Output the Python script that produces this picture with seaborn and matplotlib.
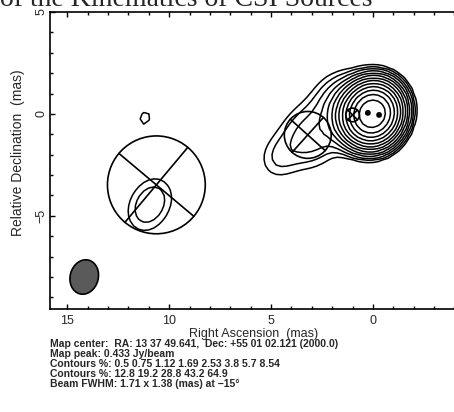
import numpy as np
import matplotlib
matplotlib.use("Agg")
import matplotlib.pyplot as plt
from matplotlib.patches import Circle, Ellipse
from matplotlib.ticker import MultipleLocator
import seaborn as sns

# ---- map header -------------------------------------------------------
map_center = "RA: 13 37 49.641,  Dec: +55 01 02.121 (2000.0)"
peak_jy = 0.433                      # Jy/beam
contour_pct = [0.5, 0.75, 1.12, 1.69, 2.53, 3.8, 5.7, 8.54,
               12.8, 19.2, 28.8, 43.2, 64.9]
beam_major, beam_minor, beam_pa = 1.71, 1.38, -15.0   # mas, mas, deg
beam_pos = (14.17, -8.0)             # where the restoring beam is drawn

# ---- model-fit components (circular Gaussians) --------------------------
comp_ra = [0.25, -0.30, 1.00, 3.20, 10.63]      # mas
comp_dec = [0.05, -0.05, -0.05, -1.03, -3.48]   # mas
comp_fwhm = [0.20, 0.20, 0.67, 2.30, 4.80]      # mas
comp_pa = [45, 45, 45, 48, 50]                  # deg, orientation of the cross

# ---- CLEAN brightness distribution used for the contour map -------------
src_ra = [0.25, -0.30, 1.00, 3.10, 4.70, 1.60, 10.65, 11.25, 11.20]
src_dec = [0.05, -0.05, -0.05, -1.10, -2.20, 0.60, -4.00, -4.90, -0.20]
src_flux = [0.265, 0.215, 0.025, 0.014, 0.004, 0.012, 0.0045, 0.0045, 0.00235]  # Jy
src_fwhm = [0.20, 0.20, 0.67, 1.80, 1.00, 1.60, 1.20, 1.20, 0.0]              # mas

# ---- axis ranges (mas) --------------------------------------------------
ra_lim = (15.85, -4.37)
dec_lim = (-9.57, 5.0)

sns.set_style("ticks")
plt.rcParams["font.family"] = ["Liberation Sans", "DejaVu Sans"]
plt.rcParams["axes.unicode_minus"] = True

FW2SIG = 1.0 / (2.0 * np.sqrt(2.0 * np.log(2.0)))


def beam_cov(major, minor, pa_deg):
    pa = np.deg2rad(pa_deg)
    u = np.array([np.sin(pa), np.cos(pa)])     # major axis (east, north)
    v = np.array([np.cos(pa), -np.sin(pa)])
    return (major * FW2SIG) ** 2 * np.outer(u, u) + (minor * FW2SIG) ** 2 * np.outer(v, v)


# restored map on a 0.25 mas grid
step = 0.25
xs = np.arange(-5.0, 17.0 + step / 2, step)
ys = np.arange(-10.5, 6.0 + step / 2, step)
X, Y = np.meshgrid(xs, ys)
cb = beam_cov(beam_major, beam_minor, beam_pa)
sky = np.zeros_like(X)
for x0, y0, f, d in zip(src_ra, src_dec, src_flux, src_fwhm):
    cov = cb + (d * FW2SIG) ** 2 * np.eye(2)
    inv = np.linalg.inv(cov)
    amp = f * np.sqrt(np.linalg.det(cb) / np.linalg.det(cov))   # Jy/beam
    dx, dy = X - x0, Y - y0
    q = inv[0, 0] * dx * dx + 2 * inv[0, 1] * dx * dy + inv[1, 1] * dy * dy
    sky += amp * np.exp(-0.5 * q)
sky *= peak_jy / sky.max()
levels = [peak_jy * p / 100.0 for p in contour_pct]

W, H = 454, 412
fig = plt.figure(figsize=(W / 100, H / 100), dpi=100)
ax = fig.add_axes([50 / W, 1 - 309 / H, 412 / W, 297 / H])
ax.set_facecolor("white")

ax.contour(X, Y, sky, levels=levels, colors="black", linewidths=1.1)

# model-fit components: circle of FWHM diameter with a cross
for x0, y0, d, pa in zip(comp_ra, comp_dec, comp_fwhm, comp_pa):
    ax.add_patch(Circle((x0, y0), d / 2, fill=False, ec="black", lw=1.2, zorder=3))
    for ang in (pa, pa + 90):
        a = np.deg2rad(ang)
        ex, ey = d / 2 * np.sin(a), d / 2 * np.cos(a)
        ax.plot([x0 - ex, x0 + ex], [y0 - ey, y0 + ey], color="black", lw=1.2, zorder=3)

# restoring beam
ax.add_patch(Ellipse(beam_pos, width=beam_minor, height=beam_major, angle=-beam_pa,
                     fc="#5a5a5a", ec="black", lw=1.2, zorder=3))

ax.set_xlim(*ra_lim)
ax.set_ylim(*dec_lim)
ax.xaxis.set_major_locator(MultipleLocator(5))
ax.xaxis.set_minor_locator(MultipleLocator(1))
ax.yaxis.set_major_locator(MultipleLocator(5))
ax.yaxis.set_minor_locator(MultipleLocator(1))
ax.tick_params(which="both", direction="in", top=True, right=True, color="black", width=1.0)
ax.tick_params(which="major", length=3.6)
ax.tick_params(which="minor", length=2.0)
ax.tick_params(axis="x", which="major", labelsize=9, pad=4.0)
ax.tick_params(axis="y", which="major", labelsize=9, pad=2.0)
for lbl in ax.get_yticklabels():
    lbl.set_rotation(90)
    lbl.set_va("center")
for sp in ax.spines.values():
    sp.set_linewidth(1.2)
    sp.set_color("black")

fig.text(253.5 / W, 1 - 334 / H, "Right Ascension  (mas)", ha="center", va="center", fontsize=9)
fig.text(18 / W, 1 - 153 / H, "Relative Declination  (mas)", ha="center", va="center",
         rotation=90, fontsize=10)

pct_txt = [f"{p:g}" for p in contour_pct]
pa_txt = f"{beam_pa:g}".replace("-", "\u2212")
info = [
    f"Map center:  {map_center}",
    f"Map peak: {peak_jy:.3f} Jy/beam",
    "Contours %: " + " ".join(pct_txt[:8]),
    "Contours %: " + " ".join(pct_txt[8:]),
    f"Beam FWHM: {beam_major:.2f} x {beam_minor:.2f} (mas) at {pa_txt}\u00b0",
]
for i, line in enumerate(info):
    fig.text(50 / W, 1 - (344.3 + 10 * i) / H, line, ha="left", va="center",
             fontsize=7.5, fontweight="bold")

fig.text(0.0, 1 - 6.0 / H, "of the Kinematics of CSI Sources", ha="left", va="baseline",
         fontsize=20, family=["Liberation Serif", "DejaVu Serif"])

fig.savefig("out.png", dpi=100, facecolor="white")
